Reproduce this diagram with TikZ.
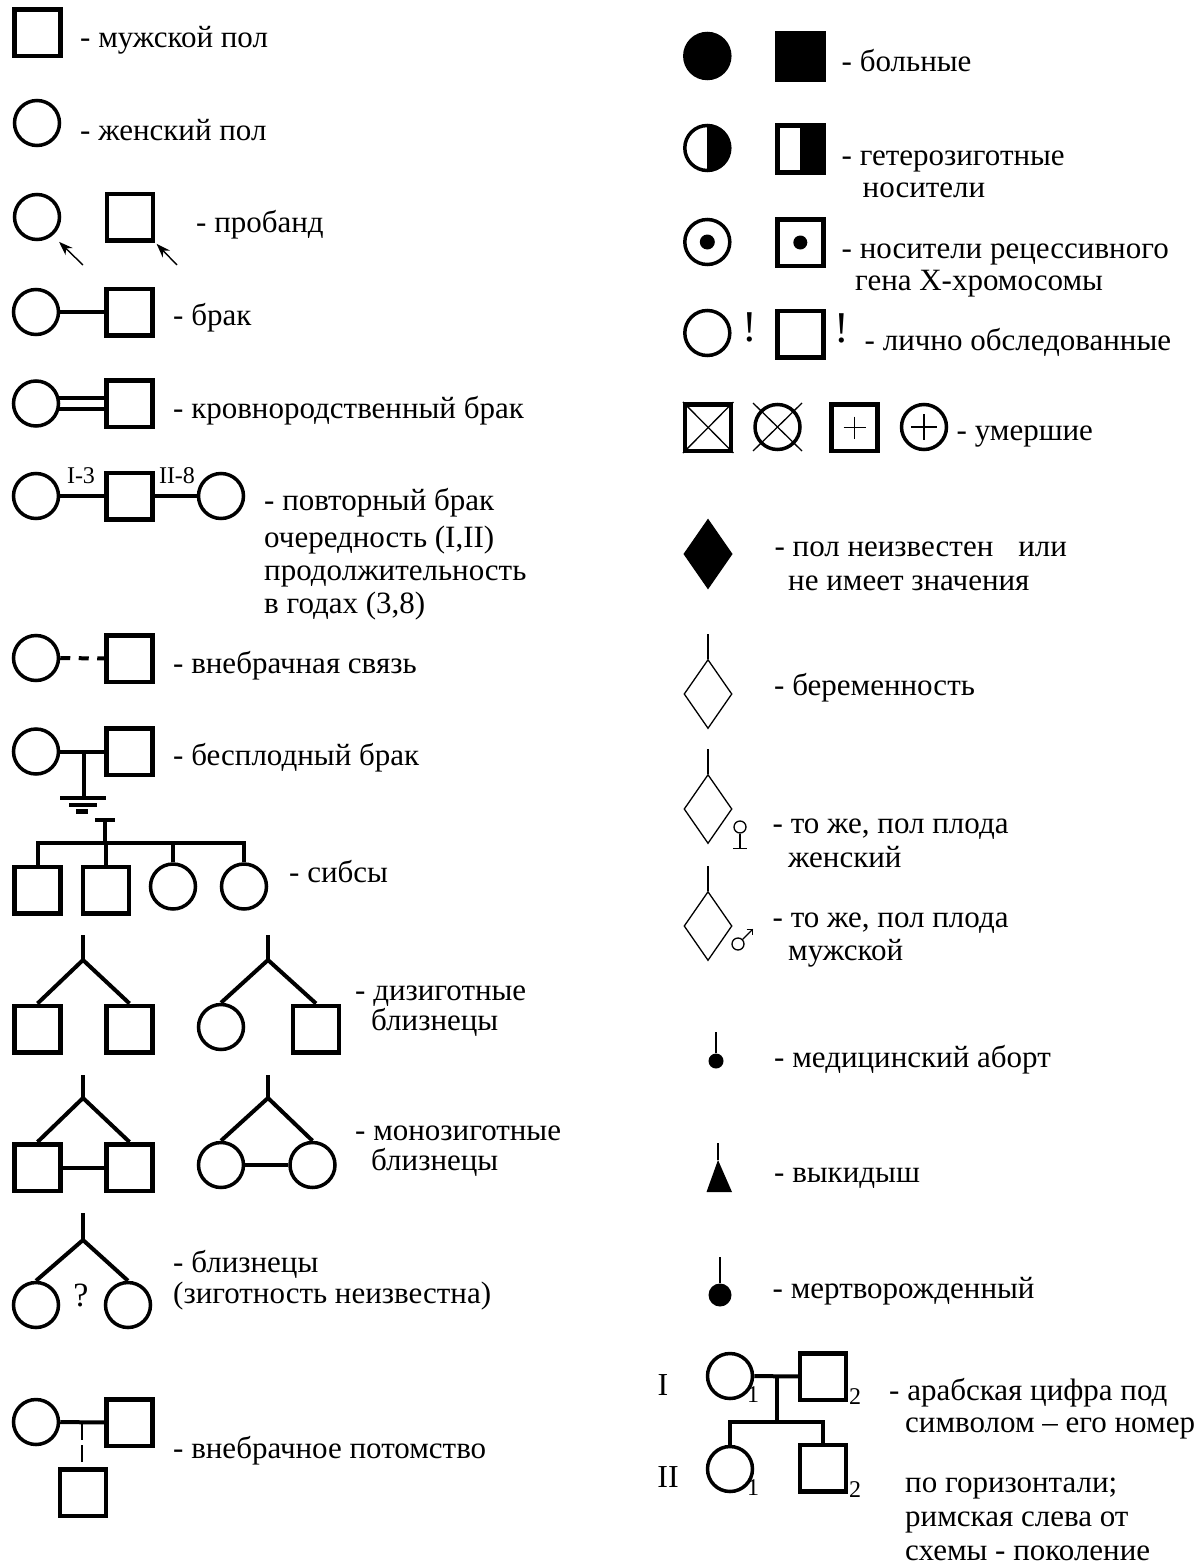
\documentclass[tikz,border=0pt]{standalone}
\usepackage{fontspec}
\setmainfont{Liberation Serif}
\usetikzlibrary{shapes.geometric,arrows.meta,calc}

\newcommand\lgdfont{\fontsize{31}{34}\selectfont}
\newcommand\lgdsmall{\fontsize{24}{24}\selectfont}
\newcommand\lgdsub{\fontsize{24}{24}\selectfont}
\newcommand\lgdgen{\fontsize{32}{32}\selectfont}

\begin{document}
\begin{tikzpicture}[x=1pt,y=-1pt,
  male/.style={draw, rectangle, line width=4.5pt, minimum width=46pt, minimum height=46.5pt, inner sep=0pt, line join=miter},
  fem/.style={draw, circle, line width=3.5pt, minimum size=45pt, inner sep=0pt},
  conn/.style={line width=4pt, line join=miter},
  thinln/.style={line width=1.3pt},
  arr/.style={line width=1.4pt, -{Stealth[length=14pt,width=10pt]}},
  lbl/.style={anchor=base west, inner sep=0pt, font=\lgdfont},
  tiny/.style={inner sep=0pt, font=\lgdsmall},
  num/.style={inner sep=0pt, font=\lgdsub},
  gen/.style={inner sep=0pt, font=\lgdgen},
  rhomb/.style={draw, diamond, thinln, minimum width=48pt, minimum height=69pt, inner sep=0pt},
  half/.style={path picture={\fill[black] (path picture bounding box.north) rectangle (path picture bounding box.south east);}}
]
\fill[white] (0,0) rectangle (1201,1568);
\useasboundingbox (0,0) rectangle (1201,1568);

% ---------------- left column ----------------
% sexes
\node[male] (m1) at (37.5,33) {};
\node[lbl] at (80,48) {- мужской пол};
\node[fem] (f1) at (37,123) {};
\node[lbl] at (80,140) {- женский пол};

% proband
\node[fem] (pf) at (37,217) {};
\node[male] (pm) at (130,217) {};
\coordinate (pfa) at (83,265);
\coordinate (pma) at (177,265);
\draw[arr, shorten >=9pt] (pfa) -- (pf.-50);
\draw[arr, shorten >=2pt] (pma) -- (pm.south east);
\node[lbl] at (196,232) {- пробанд};

% marriage
\node[fem] (bf) at (36,312) {};
\node[male] (bm) at (129.5,312) {};
\draw[conn] (bf) -- (bm);
\node[lbl] at (173,325) {- брак};

% consanguineous marriage
\node[fem] (kf) at (36,403.5) {};
\node[male] (km) at (129.5,403.5) {};
\draw[line width=3.2pt] ($(kf.east)+(-1,-5.5)$) -- ($(km.west)+(0,-5.5)$);
\draw[line width=3.2pt] ($(kf.east)+(-1,5.5)$) -- ($(km.west)+(0,5.5)$);
\node[lbl] at (173,418) {- кровнородственный брак};

% repeated marriage
\node[fem] (rf1) at (36,496) {};
\node[male] (rm) at (129.5,496) {};
\node[fem] (rf2) at (221,496) {};
\draw[conn] (rf1) -- (rm);
\draw[conn] (rm) -- (rf2);
\node[tiny] at (81,476) {I-3};
\node[tiny] at (177,476) {II-8};
\node[lbl] at (264,510) {- повторный брак};
\node[lbl] at (264,547) {очередность (I,II)};
\node[lbl] at (264,580) {продолжительность};
\node[lbl] at (264,613) {в годах (3,8)};

% extramarital relationship
\node[fem] (vf) at (36,658) {};
\node[male] (vm) at (129.5,658.5) {};
\draw[conn, dash pattern=on 10pt off 8.5pt] (vf) -- (vm);
\node[lbl] at (173,673) {- внебрачная связь};

% childless marriage
\node[fem] (if) at (36,751.5) {};
\node[male] (im) at (129.5,751.5) {};
\draw[conn] (if) -- (im);
\coordinate (ifc) at (84,751.5);
\draw[conn] (ifc) -- ++(0,46.5) coordinate (ifb);
\draw[line width=3.5pt] ($(ifb)+(-24,0)$) -- ($(ifb)+(22,0)$);
\draw[line width=3.5pt] ($(ifb)+(-15,7)$) -- ($(ifb)+(13,7)$);
\draw[line width=5pt] ($(ifb)+(-8,13.5)$) -- ($(ifb)+(4,13.5)$);
\node[lbl] at (173,765) {- бесплодный брак};

% sibs
\node[male] (sb1) at (37.5,890) {};
\node[male] (sb2) at (106,890) {};
\node[fem] (sb3) at (173,886.5) {};
\node[fem] (sb4) at (244,886.5) {};
\coordinate (sibbar) at (105,843);
\draw[conn] (sb1.north) |- (sibbar) -| (sb4.north);
\draw[conn] (sb2.north) -- (sb2.north |- sibbar);
\draw[conn] (sb3.north) -- (sb3.north |- sibbar);
\draw[conn] (sibbar) -- ++(0,-23) coordinate (sibtop);
\draw[conn] ($(sibtop)+(-10,0)$) -- ($(sibtop)+(10,0)$);
\node[lbl] at (289,882) {- сибсы};

% dizygotic twins
\node[male] (dz1a) at (37.5,1029) {};
\node[male] (dz1b) at (129.5,1029) {};
\coordinate (dz1top) at (83,935);
\coordinate (dz1apex) at (83,960);
\draw[conn] (dz1top) -- (dz1apex);
\draw[conn] (dz1a.north) -- (dz1apex) -- (dz1b.north);
\node[fem] (dz2a) at (221,1027) {};
\node[male] (dz2b) at (316,1029) {};
\coordinate (dz2top) at (268,935);
\coordinate (dz2apex) at (268,960);
\draw[conn] (dz2top) -- (dz2apex);
\draw[conn] (dz2a.north) -- (dz2apex) -- (dz2b.north);
\node[lbl] at (355,1000) {- дизиготные};
\node[lbl] at (371,1030) {близнецы};

% monozygotic twins
\node[male] (mz1a) at (37.5,1167.5) {};
\node[male] (mz1b) at (129.5,1167.5) {};
\coordinate (mz1top) at (83,1075);
\coordinate (mz1apex) at (83,1098);
\draw[conn] (mz1top) -- (mz1apex);
\draw[conn] (mz1a.north) -- (mz1apex) -- (mz1b.north);
\draw[conn] (mz1a) -- (mz1b);
\node[fem] (mz2a) at (221,1165) {};
\node[fem] (mz2b) at (312.5,1165) {};
\coordinate (mz2top) at (268,1075);
\coordinate (mz2apex) at (268,1098);
\draw[conn] (mz2top) -- (mz2apex);
\draw[conn] (mz2a.north) -- (mz2apex) -- (mz2b.north);
\draw[conn] (mz2a) -- (mz2b);
\node[lbl] at (355,1140) {- монозиготные};
\node[lbl] at (371,1170) {близнецы};

% twins of unknown zygosity
\node[fem] (uz1) at (36,1305) {};
\node[fem] (uz2) at (128,1305) {};
\coordinate (uztop) at (83,1213);
\coordinate (uzapex) at (83,1240);
\draw[conn] (uztop) -- (uzapex);
\draw[conn] (uz1.north) -- (uzapex) -- (uz2.north);
\node[inner sep=0pt, font=\fontsize{34}{34}\selectfont] at (81,1295) {?};
\node[lbl] at (173,1272) {- близнецы};
\node[lbl] at (173,1303) {(зиготность неизвестна)};

% illegitimate offspring
\node[fem] (of) at (36,1422) {};
\node[male] (om) at (129.5,1422.5) {};
\node[male] (oc) at (83,1492.5) {};
\draw[conn] (of) -- (om);
\coordinate (oj) at (82,1423);
\draw[thinln, dash pattern=on 17pt off 5pt] (oj) -- (oj |- oc.north);
\node[lbl] at (173,1458) {- внебрачное потомство};

% ---------------- right column ----------------
% affected
\node[fem, fill=black] (af) at (707.3,56) {};
\node[male, fill=black] (am) at (800.3,56.5) {};
\node[lbl] at (841.5,72) {- больные};

% heterozygous carriers
\node[fem, half] (hf) at (707.3,148) {};
\node[male, half] (hm) at (800.3,149) {};
\node[lbl] at (841.5,165) {- гетерозиготные};
\node[lbl] at (862.5,197) {носители};

% carriers of an X-linked recessive gene
\node[fem] (xf) at (707.3,242) {};
\fill (xf.center) circle[radius=7.5pt];
\node[male] (xm) at (800.3,242.5) {};
\fill (xm.center) circle[radius=7pt];
\node[lbl] at (841.5,258) {- носители рецессивного};
\node[lbl] at (855,290) {гена Х-хромосомы};

% personally examined
\node[fem] (ef) at (707.3,333) {};
\node[male] (em) at (800.3,334) {};
\node[anchor=base, inner sep=0pt, font=\fontsize{44}{44}\selectfont] at (750,341) {!};
\node[anchor=base, inner sep=0pt, font=\fontsize{44}{44}\selectfont] at (842,342) {!};
\node[lbl] at (864.5,350) {- лично обследованные};

% deceased
\node[male] (d1) at (708.2,427.5) {};
\draw[thinln] (d1.north west) -- (d1.south east);
\draw[thinln] (d1.north east) -- (d1.south west);
\node[fem] (d2) at (777.5,427) {};
\draw[thinln] ($(d2.center)+(-24.5,-24)$) -- ($(d2.center)+(24.5,24)$);
\draw[thinln] ($(d2.center)+(24.5,-24)$) -- ($(d2.center)+(-24.5,24)$);
\node[male] (d3) at (854.5,427.5) {};
\draw[thinln] ($(d3.center)+(-11,0)$) -- ($(d3.center)+(11,0)$);
\draw[thinln] ($(d3.center)+(0,-11)$) -- ($(d3.center)+(0,11)$);
\node[fem] (d4) at (924,427) {};
\draw[thinln] ($(d4.center)+(-13,0)$) -- ($(d4.center)+(13,0)$);
\draw[thinln] ($(d4.center)+(0,-13)$) -- ($(d4.center)+(0,13)$);
\node[lbl] at (956.5,440) {- умершие};

% sex unknown
\node[rhomb, fill=black] (ud) at (708,554) {};
\node[lbl] at (774.4,556) {- пол неизвестен\hspace{25pt}или};
\node[lbl] at (788,590) {не имеет значения};

% pregnancy
\node[rhomb] (pg) at (708,694) {};
\draw[thinln] (pg.north) -- ++(0,-25);
\node[lbl] at (774,695) {- беременность};

% pregnancy, female fetus
\node[rhomb] (pgf) at (708,809) {};
\draw[thinln] (pgf.north) -- ++(0,-25);
\node[draw, circle, thinln, minimum size=12pt, inner sep=0pt] (fsig) at (740,827) {};
\draw[thinln] (fsig.south) -- ++(0,15) coordinate (fsbar);
\draw[thinln] ($(fsbar)+(-7,0)$) -- ($(fsbar)+(7,0)$);
\node[lbl] at (772.5,833) {- то же, пол плода};
\node[lbl] at (788,867) {женский};

% pregnancy, male fetus
\node[rhomb] (pgm) at (708,926) {};
\draw[thinln] (pgm.north) -- ++(0,-25);
\node[draw, circle, thinln, minimum size=12pt, inner sep=0pt] (msig) at (738,944) {};
\draw[thinln] (msig.45) -- ++(10,-10) coordinate (mstip);
\draw[thinln] ($(mstip)+(-6,0)$) -- (mstip) -- ($(mstip)+(0,6)$);
\node[lbl] at (772.5,927) {- то же, пол плода};
\node[lbl] at (788,960) {мужской};

% medical abortion
\node[circle, fill=black, minimum size=15pt, inner sep=0pt] (ab) at (716,1061) {};
\draw[thinln] (ab.north) -- ++(0,-21);
\node[lbl] at (774,1067) {- медицинский аборт};

% miscarriage
\coordinate (mc) at (718,1160);
\fill (mc) -- ++(-11.5,32) -- ++(25.5,0) -- cycle;
\draw[thinln] (mc) -- ++(0,-17);
\node[lbl] at (774,1182) {- выкидыш};

% stillborn
\node[circle, fill=black, minimum size=23pt, inner sep=0pt] (stb) at (720,1295) {};
\draw[thinln] (stb.north) -- ++(0,-26);
\node[lbl] at (772.5,1298) {- мертворожденный};

% numbering of a pedigree
\node[gen] at (663,1385) {I};
\node[gen] at (668,1477) {II};
\node[fem] (ped1) at (730,1376) {};
\node[male] (ped2) at (823,1376.5) {};
\draw[conn] (ped1) -- (ped2);
\coordinate (pedj) at (777,1376);
\draw[conn] (pedj) -- ++(0,46) coordinate (pedbar);
\node[fem] (ped3) at (730,1469) {};
\node[male] (ped4) at (823,1468) {};
\draw[conn] (ped3.north) |- (pedbar) -| (ped4.north);
\node[num] at (753,1395) {1};
\node[num] at (855,1397) {2};
\node[num] at (753,1488) {1};
\node[num] at (855,1490) {2};
\node[lbl] at (889,1400) {- арабская цифра под};
\node[lbl] at (905,1432) {символом – его номер};
\node[lbl] at (905,1492) {по горизонтали;};
\node[lbl] at (905,1526) {римская слева от};
\node[lbl] at (905,1560) {схемы - поколение};
\end{tikzpicture}
\end{document}
